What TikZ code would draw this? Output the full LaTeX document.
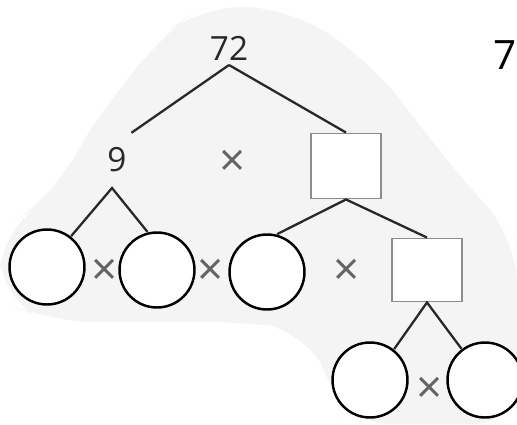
\documentclass[tikz,border=0pt]{standalone}
\usepackage{fontspec}
\setmainfont{Open Sans}
\usepackage{xcolor}
\usepackage{tikz}
\definecolor{blobgray}{RGB}{244,244,244}
\definecolor{linegray}{RGB}{40,40,40}
\definecolor{boxgray}{RGB}{140,140,140}
\definecolor{timesgray}{RGB}{100,100,100}
\tikzset{
  num/.style={inner sep=0pt, outer sep=2.8pt, text=linegray, font=\fontsize{19}{19}\selectfont},
  times/.style={inner sep=0pt, text=timesgray, font=\fontsize{26}{26}\selectfont},
  blank/.style={draw=boxgray, fill=white, line width=1.1pt, minimum width=1.4cm, minimum height=1.3cm, inner sep=0pt},
  slot/.style={circle, draw=black, fill=white, line width=1.4pt, minimum size=1.5cm, inner sep=0pt, outer sep=1pt},
  branch/.style={draw=linegray, line width=1.3pt}
}

\begin{document}
\begin{tikzpicture}[x=0.02cm,y=0.02cm]
\useasboundingbox (0,0) rectangle (517,424);
    % light background
    \fill[blobgray, rounded corners=25pt] (200,418)--(290,416)--(370,362)--(410,312)--(450,259)--(490,214)--(517,184)--(517,0)--(345,0)--(330,44)--(305,94)--(250,102)--(50,102)--(0,124)--(0,194)--(50,224)--(77,274)--(110,324)--(165,391)--cycle;
    % numbers and blanks
    \node[num] (n72) at (229,376) {72};
    \node[num] (n9) at (117,264) {9};
    \node[blank] (sq1) at (346,258) {};
    \node[blank, minimum height=1.26cm] (sq2) at (427,154) {};
    \node[slot] (c1) at (47,157) {};
    \node[slot] (c2) at (157,154) {};
    \node[slot] (c3) at (267,152) {};
    \node[slot] (c4) at (370,44) {};
    \node[slot] (c5) at (485,44) {};
    \coordinate (j9) at (112,236);
    % times signs
    \node[times] (xa) at (233,261) {×};
    \node[times] (xb) at (105,152) {×};
    \node[times] (xc) at (211,152) {×};
    \node[times] (xd) at (347,152) {×};
    \node[times] (xe) at (430,34) {×};
    \node[inner sep=0pt, font=\fontsize{23}{23}\selectfont] (q7) at (505,369) {7};
    % branches
    \draw[branch, shorten >=10pt] (n72.south) -- (n9.north);
    \draw[branch] (n72.south) -- (sq1.north);
    \draw[branch] (c1.52) -- (j9) -- (c2.104);
    \draw[branch] (c3.75) -- (sq1.south) -- (sq2.north);
    \draw[branch] (c4.52) -- (sq2.south) -- (c5.127);
\end{tikzpicture}
\end{document}
